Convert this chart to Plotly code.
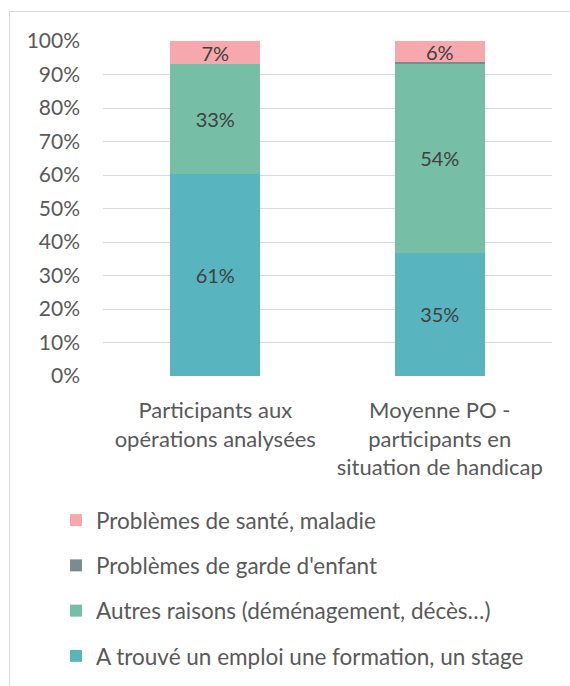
import plotly.graph_objects as go

categories = ["Participants aux<br>opérations analysées",
              "Moyenne PO -<br>participants en<br>situation de handicap"]
series_names = ["A trouvé un emploi une formation, un stage",
                "Autres raisons (déménagement, décès…)",
                "Problèmes de garde d'enfant",
                "Problèmes de santé, maladie"]
emploi = [61, 35]
autres = [33, 54]
garde = [0, 0.3]
sante = [7, 6]
colors = ["#58b5bf", "#76bea6", "#7a8c8e", "#f6a8ad"]
ranks = [4, 3, 2, 1]

W, H = 570, 686
L, T, R, B = 103, 41, 18, 310
pw, ph = W - L - R, H - T - B

fig = go.Figure()
for name, vals, col, rk in zip(series_names, [emploi, autres, garde, sante], colors, ranks):
    fig.add_trace(go.Bar(
        x=categories, y=vals, name=name, marker=dict(color=col, line=dict(width=0)),
        text=[f"{v:.0f}%" if v >= 1 else "" for v in vals],
        textposition="inside", insidetextanchor="middle", constraintext="none",
        textfont=dict(family="Lato", size=20, color="#404040"),
        legendgroup=name, legendrank=rk, cliponaxis=False,
    ))

def px_x(p):
    return (p - L) / pw

def px_y(p):
    return (T + ph - p) / ph

fig.update_layout(
    width=W, height=H,
    margin=dict(l=L, r=R, t=T, b=B, autoexpand=False),
    barmode="stack", barnorm="percent", bargap=0.6,
    plot_bgcolor="white", paper_bgcolor="white",
    font=dict(family="Lato", size=20, color="#595959"),
    xaxis=dict(showgrid=False, showline=False, ticks="", tickfont=dict(size=22),
               ticklabelstandoff=19, tickangle=0),
    yaxis=dict(range=[0, 100], dtick=10, ticksuffix="%", showgrid=True,
               gridcolor="#d9d9d9", gridwidth=1, zeroline=False, showline=False,
               ticks="", tickfont=dict(size=21), ticklabelstandoff=22),
    legend=dict(orientation="v", traceorder="grouped", tracegroupgap=13,
                x=px_x(56), xanchor="left", y=px_y(499), yanchor="top",
                font=dict(size=22.5, color="#595959"), itemwidth=30),
    showlegend=True,
    shapes=[
        dict(type="line", xref="paper", yref="paper", x0=px_x(9.5), x1=px_x(570),
             y0=px_y(11.5), y1=px_y(11.5), line=dict(color="#d9d9d9", width=1)),
        dict(type="line", xref="paper", yref="paper", x0=px_x(9.5), x1=px_x(9.5),
             y0=px_y(11.5), y1=px_y(690), line=dict(color="#d9d9d9", width=1)),
    ],
)

fig.write_html("out.html", config={"displayModeBar": False},
               post_script="document.body.style.margin='0px';")
